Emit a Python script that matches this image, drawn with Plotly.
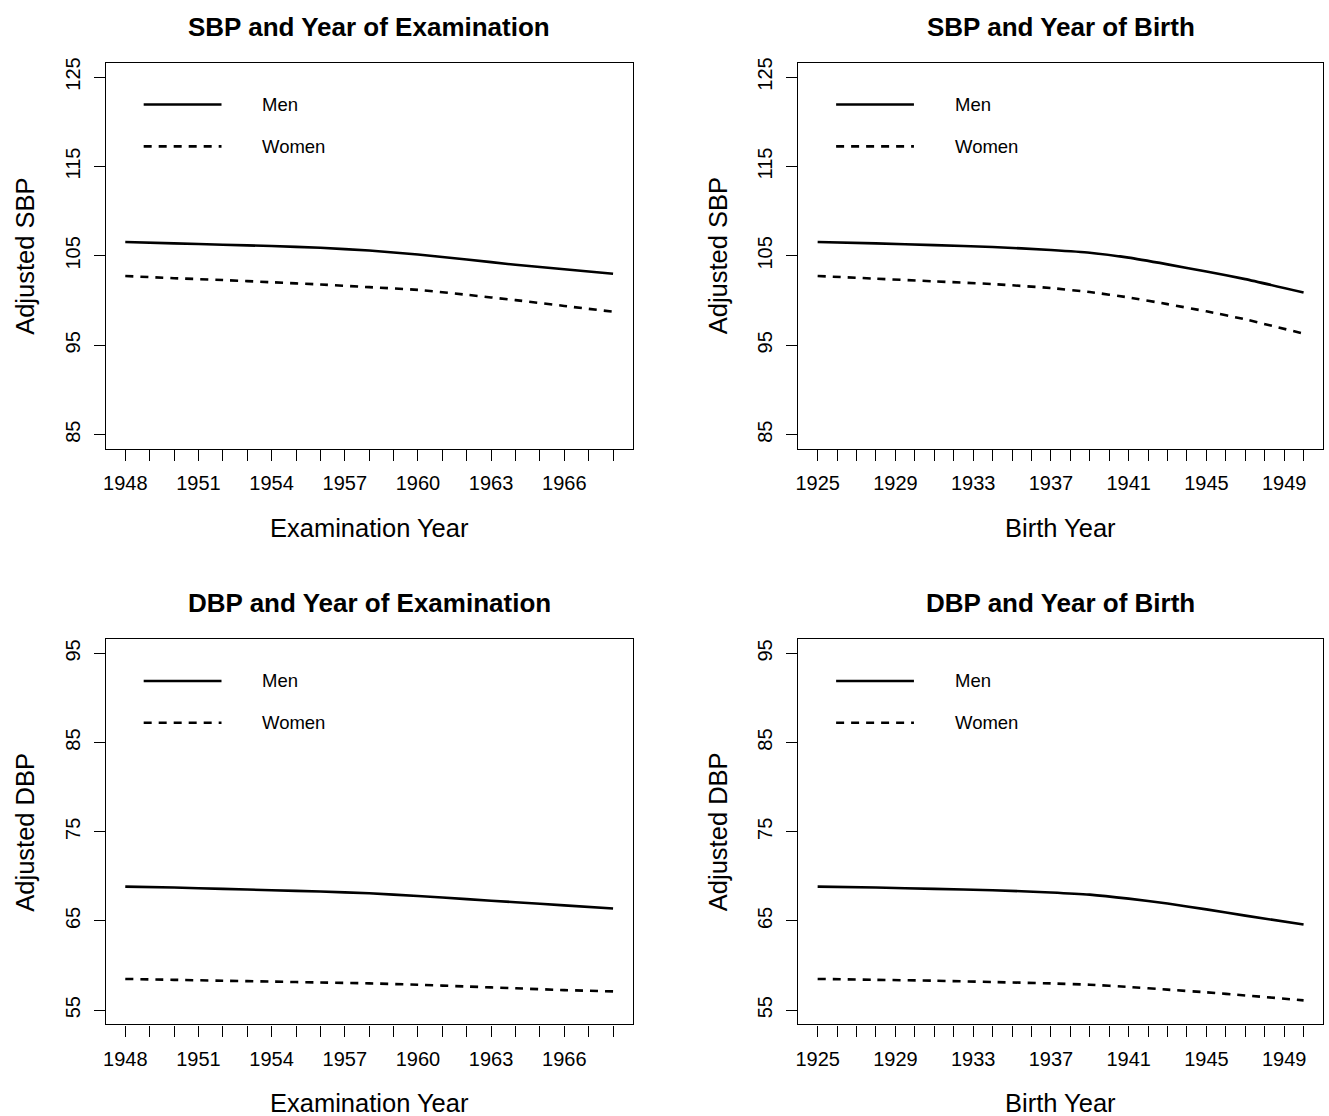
import plotly.graph_objects as go

# ---------------- data ----------------
exam_years = [1948, 1950, 1952, 1954, 1956, 1958, 1960, 1962, 1964, 1966, 1968]
birth_years = [1925, 1928, 1931, 1934, 1937, 1939, 1941, 1943, 1945, 1947, 1950]

sbp_exam_men = [106.55, 106.4, 106.25, 106.1, 105.9, 105.6, 105.15, 104.6, 104.0, 103.5, 103.0]
sbp_exam_women = [102.75, 102.5, 102.3, 102.05, 101.8, 101.5, 101.2, 100.65, 100.05, 99.4, 98.75]
sbp_birth_men = [106.55, 106.4, 106.2, 106.0, 105.65, 105.35, 104.8, 104.05, 103.25, 102.4, 100.9]
sbp_birth_women = [102.75, 102.45, 102.15, 101.85, 101.4, 100.95, 100.35, 99.6, 98.8, 97.9, 96.3]
dbp_exam_men = [68.85, 68.75, 68.6, 68.45, 68.3, 68.1, 67.8, 67.45, 67.1, 66.75, 66.4]
dbp_exam_women = [58.5, 58.4, 58.3, 58.2, 58.1, 58.0, 57.85, 57.65, 57.45, 57.25, 57.1]
dbp_birth_men = [68.85, 68.75, 68.6, 68.45, 68.2, 67.95, 67.5, 66.95, 66.3, 65.6, 64.6]
dbp_birth_women = [58.5, 58.4, 58.3, 58.15, 58.0, 57.85, 57.6, 57.3, 57.0, 56.65, 56.1]

exam_ticks = list(range(1948, 1969))
exam_labels = [str(y) if (y - 1948) % 3 == 0 else "" for y in exam_ticks]
birth_ticks = list(range(1925, 1951))
birth_labels = [str(y) if (y - 1925) % 4 == 0 else "" for y in birth_ticks]
sbp_ticks = [85, 95, 105, 115, 125]
dbp_ticks = [55, 65, 75, 85, 95]

titles = ["SBP and Year of Examination", "SBP and Year of Birth",
          "DBP and Year of Examination", "DBP and Year of Birth"]
xtitles = ["Examination Year", "Birth Year", "Examination Year", "Birth Year"]
ytitles = ["Adjusted SBP", "Adjusted SBP", "Adjusted DBP", "Adjusted DBP"]
legend_names = ["Men", "Women"]

# ---------------- layout geometry (pixels) ----------------
W, H = 1329, 1116
FONT = "Liberation Sans, Arial, Helvetica, sans-serif"
col_px = [(103, 631), (797, 1323)]
row_px = [(58, 446), (637, 1024)]

def px(x):
    return x / W

def py(y):
    return 1 - y / H

fig = go.Figure()

panels = [
    (exam_years, sbp_exam_men, sbp_exam_women, exam_ticks, exam_labels, [1947.2, 1968.8], sbp_ticks, [83.4, 126.6]),
    (birth_years, sbp_birth_men, sbp_birth_women, birth_ticks, birth_labels, [1924, 1951], sbp_ticks, [83.4, 126.6]),
    (exam_years, dbp_exam_men, dbp_exam_women, exam_ticks, exam_labels, [1947.2, 1968.8], dbp_ticks, [53.4, 96.6]),
    (birth_years, dbp_birth_men, dbp_birth_women, birth_ticks, birth_labels, [1924, 1951], dbp_ticks, [53.4, 96.6]),
]

annotations = []
shapes = []
for i, (xs, men, women, xt, xl, xr, yt, yr) in enumerate(panels):
    r, c = divmod(i, 2)
    x0, x1 = col_px[c]
    y0, y1 = row_px[r]
    sfx = "" if i == 0 else str(i + 1)
    fig.add_trace(go.Scatter(x=xs, y=men, mode="lines", name=legend_names[0], showlegend=False,
                             line=dict(color="black", width=2.6, shape="spline", smoothing=0.5),
                             xaxis="x" + sfx, yaxis="y" + sfx))
    fig.add_trace(go.Scatter(x=xs, y=women, mode="lines", name=legend_names[1], showlegend=False,
                             line=dict(color="black", width=2.6, dash="8px,7px", shape="spline", smoothing=0.5),
                             xaxis="x" + sfx, yaxis="y" + sfx))
    axis_common = dict(showline=True, mirror=True, linecolor="black", linewidth=1.3,
                       ticks="outside", ticklen=11, tickwidth=1.2, tickcolor="black",
                       showgrid=False, zeroline=False, fixedrange=True,
                       tickfont=dict(family=FONT, size=20, color="black"))
    fig.update_layout(**{
        "xaxis" + sfx: dict(domain=[px(x0), px(x1)], range=xr, tickmode="array",
                            tickvals=xt, ticktext=xl, anchor="y" + sfx,
                            ticklabelstandoff=5, **axis_common),
        "yaxis" + sfx: dict(domain=[py(y1), py(y0)], range=yr, tickmode="array",
                            tickvals=yt, ticktext=[str(v) for v in yt], anchor="x" + sfx,
                            tickangle=-90, ticklabelstandoff=6, **axis_common),
    })
    cx = (x0 + x1) / 2
    cy = (y0 + y1) / 2
    annotations.append(dict(text="<b>" + titles[i] + "</b>", x=px(cx), y=py(y0 - 36), xref="paper", yref="paper",
                            showarrow=False, xanchor="center", yanchor="middle",
                            font=dict(family=FONT, size=26, color="black")))
    annotations.append(dict(text=xtitles[i], x=px(cx), y=py(y1 + 79), xref="paper", yref="paper",
                            showarrow=False, xanchor="center", yanchor="middle",
                            font=dict(family=FONT, size=25.5, color="black")))
    annotations.append(dict(text=ytitles[i], x=px(x0 - 81), y=py(cy), xref="paper", yref="paper",
                            showarrow=False, xanchor="center", yanchor="middle", textangle=-90,
                            font=dict(family=FONT, size=25.5, color="black")))
    # legend
    lx0 = x0 + 38
    lx1 = x0 + 116
    for k, (name, dash) in enumerate(zip(legend_names, ["solid", "8px,7px"])):
        ly = y0 + 42 + k * 42
        shapes.append(dict(type="line", xref="paper", yref="paper", x0=px(lx0), x1=px(lx1),
                           y0=py(ly), y1=py(ly), line=dict(color="black", width=2.6, dash=dash)))
        annotations.append(dict(text=name, x=px(x0 + 155), y=py(ly), xref="paper", yref="paper",
                                showarrow=False, xanchor="left", yanchor="middle",
                                font=dict(family=FONT, size=18.5, color="black")))

fig.update_layout(width=W, height=H, margin=dict(l=0, r=0, t=0, b=0),
                  paper_bgcolor="white", plot_bgcolor="white",
                  annotations=annotations, shapes=shapes, showlegend=False)

fig.write_html("out.html", config={"displayModeBar": False},
               post_script="document.body.style.margin='0';document.body.style.padding='0';"
                           "document.body.style.overflow='hidden';")
